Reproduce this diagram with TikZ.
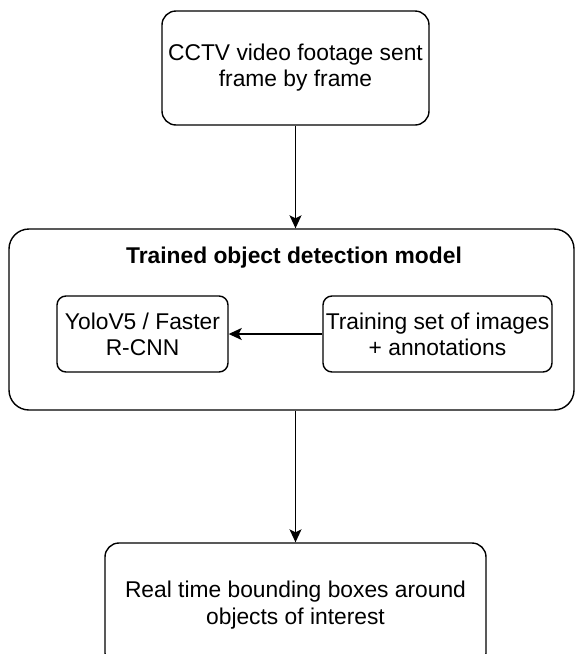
\documentclass[tikz,border=0pt]{standalone}
\usepackage{fontspec}
\setmainfont{Liberation Sans}
\usetikzlibrary{arrows.meta}
\newcommand\boxfont{\fontsize{22.8}{26.2}\selectfont}
\tikzstyle{box} = [rectangle, rounded corners=14pt, draw=black, line width=1.4pt, align=center, font=\boxfont, inner sep=0pt]
\tikzstyle{inbox} = [box, rounded corners=9pt, minimum height=76pt]
\tikzstyle{arrow} = [line width=1.4pt, -{Stealth[length=13pt, width=12pt, inset=3pt]}]

\begin{document}
\begin{tikzpicture}[x=1pt, y=-1pt]
	    \useasboundingbox (0,0) rectangle (575,654);

	    \node[box, minimum width=267pt, minimum height=114pt] (cctv) at (295.5,68) {CCTV video footage sent\\frame by frame};

	    \node[box, rounded corners=20pt, minimum width=565pt, minimum height=181pt] (model) at (291.5,319.5) {};
	    \node[font=\boxfont\bfseries] (title) at (294,258) {Trained object detection model};
	    \node[inbox, minimum width=171pt] (yolo) at (142.5,334) {YoloV5 / Faster\\R-CNN};
	    \node[inbox, minimum width=229pt] (train) at (437.5,334) {Training set of images\\+ annotations};

	    \node[box, minimum width=381pt, minimum height=124pt] (out) at (295.5,605) {Real time bounding boxes around\\objects of interest};

	    \draw[arrow] (cctv) -- (cctv |- model.north);
	    \draw[arrow] (train) -- (yolo);
	    \draw[arrow] (model.south -| out) -- (out);
	\end{tikzpicture}
\end{document}
